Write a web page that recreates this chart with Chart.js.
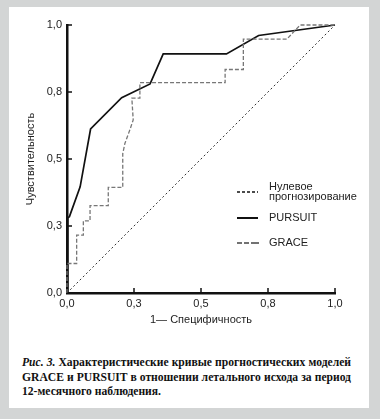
<!DOCTYPE html>
<html><head><meta charset="utf-8">
<script src="https://cdn.jsdelivr.net/npm/chart.js@4/dist/chart.umd.min.js"></script>
<style>
html,body{margin:0;padding:0;}
body{width:380px;height:419px;background:#d3d5d5;position:relative;overflow:hidden;}
#panel{position:absolute;left:9px;top:7px;width:360px;height:401px;background:#fff;}
#wrap{position:absolute;left:3px;top:0;width:359px;height:330px;}
#cap{position:absolute;left:13px;top:349px;width:329px;font-family:"Liberation Serif","Times New Roman",serif;font-weight:bold;font-size:11.6px;line-height:14.5px;color:#111;}
#cap div{white-space:nowrap;}
#cap .j{text-align:justify;text-align-last:justify;}
</style></head>
<body>
<div id="panel">
<div id="wrap"><canvas id="c" width="357" height="330"></canvas></div>
<div id="cap"><div class="j"><i>Рис. 3.</i> Характеристические кривые прогностических моделей</div><div class="j">GRACE и PURSUIT в отношении летального исхода за период</div><div>12-месячного наблюдения.</div></div>
</div>
<script>
const tickValues = [0, 0.25, 0.5, 0.75, 1];
const tickLabels = ['0,0', '0,3', '0,5', '0,8', '1,0'];
const seriesNames = ['Нулевое прогнозирование', 'PURSUIT', 'GRACE'];
const xTitle = '1— Специфичность';
const yTitle = 'Чувствительность';

const nullX = [0, 1];
const nullY = [0, 1];

const pursuitX = [0, 0.003, 0.009, 0.049, 0.088, 0.204, 0.31, 0.359, 0.595, 0.715, 1];
const pursuitY = [0, 0.28, 0.285, 0.396, 0.612, 0.729, 0.78, 0.892, 0.892, 0.961, 1];

const graceX = [0, 0, 0.036, 0.036, 0.061, 0.061, 0.086, 0.086, 0.154, 0.154, 0.208, 0.208, 0.216, 0.235, 0.247, 0.242, 0.272, 0.272, 0.59, 0.59, 0.658, 0.658, 0.82, 0.87, 1];
const graceY = [0, 0.11, 0.11, 0.216, 0.216, 0.269, 0.269, 0.326, 0.326, 0.394, 0.394, 0.52, 0.558, 0.61, 0.646, 0.727, 0.727, 0.785, 0.785, 0.834, 0.834, 0.947, 0.947, 1.0, 1.0];

const pts = (xs, ys) => xs.map((x, i) => ({x, y: ys[i]}));
const sans = '"Liberation Sans", Arial, Helvetica, sans-serif';

const overlay = {
  id: 'overlay',
  afterDraw(chart) {
    const ctx = chart.ctx, xs = chart.scales.x, ys = chart.scales.y;
    ctx.save();
    ctx.strokeStyle = '#111';
    ctx.lineWidth = 1.5;
    tickValues.forEach(v => {
      if (v <= 0) return;
      const px = xs.getPixelForValue(v);
      ctx.beginPath(); ctx.moveTo(px, ys.bottom); ctx.lineTo(px, ys.bottom - 5); ctx.stroke();
      const py = ys.getPixelForValue(v);
      ctx.beginPath(); ctx.moveTo(xs.left, py); ctx.lineTo(xs.left + 5, py); ctx.stroke();
    });
    const sx0 = 225, sx1 = 246, tx = 257;
    ctx.font = '11px ' + sans;
    ctx.fillStyle = '#222';
    ctx.textBaseline = 'middle';
    ctx.textAlign = 'left';
    ctx.strokeStyle = '#111'; ctx.lineWidth = 1.6; ctx.setLineDash([3, 2]);
    ctx.beginPath(); ctx.moveTo(sx0, 185); ctx.lineTo(sx1, 185); ctx.stroke();
    const nm = seriesNames[0].split(' ');
    ctx.fillText(nm[0], tx, 180); ctx.fillText(nm[1], tx, 190);
    ctx.setLineDash([]); ctx.lineWidth = 2;
    ctx.beginPath(); ctx.moveTo(sx0, 211); ctx.lineTo(sx1, 211); ctx.stroke();
    ctx.fillText(seriesNames[1], tx, 211);
    ctx.strokeStyle = '#444'; ctx.lineWidth = 1.3; ctx.setLineDash([5, 2, 5, 2, 9, 0]);
    ctx.beginPath(); ctx.moveTo(sx0, 236); ctx.lineTo(sx1 + 1, 236); ctx.stroke();
    ctx.fillText(seriesNames[2], tx, 236);
    ctx.restore();
  }
};

const axisCommon = {
  type: 'linear', min: 0, max: 1,
  grid: { display: false, drawTicks: false },
  border: { display: true, color: '#111', width: 2.5 },
  ticks: {
    stepSize: 0.25, color: '#222', font: { family: sans, size: 11 },
    callback: (v) => { const i = tickValues.indexOf(v); return i >= 0 ? tickLabels[i] : ''; }
  }
};

new Chart(document.getElementById('c'), {
  type: 'scatter',
  data: {
    datasets: [
      { label: seriesNames[0], data: pts(nullX, nullY), showLine: true, borderColor: '#333', borderWidth: 1, borderDash: [2, 2.5], pointRadius: 0, fill: false },
      { label: seriesNames[2], data: pts(graceX, graceY), showLine: true, borderColor: '#777', borderWidth: 1.3, borderDash: [4, 2], pointRadius: 0, fill: false },
      { label: seriesNames[1], data: pts(pursuitX, pursuitY), showLine: true, borderColor: '#111', borderWidth: 1.7, pointRadius: 0, fill: false }
    ]
  },
  options: {
    responsive: false, animation: false, clip: false,
    layout: { padding: { left: 0, top: 18, right: 34, bottom: 0 } },
    plugins: { legend: { display: false }, tooltip: { enabled: false } },
    scales: {
      x: Object.assign({}, axisCommon, {
        ticks: Object.assign({}, axisCommon.ticks, { padding: 4, maxRotation: 0 }),
        title: { display: true, text: xTitle, color: '#222', font: { family: sans, size: 11 }, padding: { top: 0, bottom: 10 } },
        afterFit: s => { s.height = 44; }
      }),
      y: Object.assign({}, axisCommon, {
        ticks: Object.assign({}, axisCommon.ticks, { padding: 5 }),
        title: { display: true, text: yTitle, color: '#222', font: { family: sans, size: 11 }, padding: { top: 12, bottom: 0 } },
        afterFit: s => { s.width = 55; }
      })
    }
  },
  plugins: [overlay]
});
</script>
</body></html>
